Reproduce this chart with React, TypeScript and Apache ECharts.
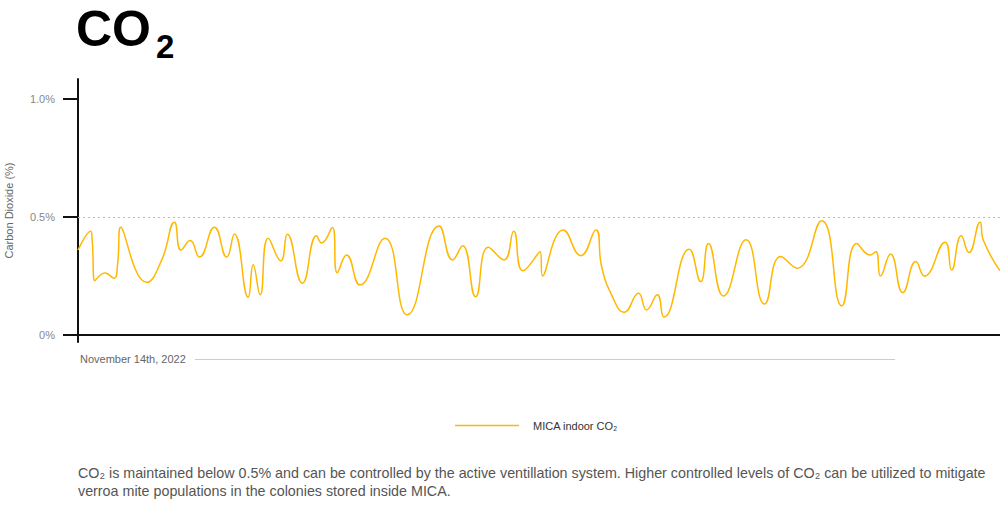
import React, { useEffect, useRef } from "react";
import * as echarts from "echarts";

// hours since start of November 14th, 2022
const hours = [
  0, 0.33, 0.37, 0.44, 0.7, 0.94, 1.03, 1.11, 1.79, 2.18, 2.51, 2.68, 2.92, 3.16, 3.55, 3.87,
  4.07, 4.43, 4.56, 4.74, 4.95, 5.28, 5.45, 5.84, 6.21, 6.34, 6.62, 6.75, 6.99, 7.34, 7.99,
  8.57, 9.4, 9.75, 10.01, 10.35, 10.68, 11.09, 11.34, 11.58, 12.03, 12.09, 12.63, 13.09, 13.48,
  13.63, 13.89, 14.22, 14.59, 14.8, 15.08, 15.25, 15.91, 16.21, 16.41, 16.8, 17.39, 17.87,
  18.29, 18.72, 19.36, 19.88, 20.27, 20.62, 20.77, 20.89, 21.15, 21.47, 21.81, 22.03, 22.57,
  22.74, 22.99, 23.19, 23.48, 23.57, 24,
];
// CO2 concentration (%)
const co2 = [
  0.36, 0.44, 0.4, 0.23, 0.263, 0.24, 0.3, 0.456, 0.223, 0.318, 0.478, 0.36, 0.4, 0.33, 0.456,
  0.33, 0.428, 0.16, 0.297, 0.17, 0.41, 0.314, 0.427, 0.219, 0.42, 0.39, 0.455, 0.264, 0.339,
  0.212, 0.41, 0.085, 0.462, 0.318, 0.378, 0.162, 0.372, 0.318, 0.44, 0.272, 0.353, 0.25, 0.445,
  0.336, 0.445, 0.29, 0.17, 0.096, 0.177, 0.106, 0.17, 0.075, 0.363, 0.226, 0.388, 0.165, 0.403,
  0.131, 0.332, 0.283, 0.484, 0.123, 0.388, 0.339, 0.353, 0.25, 0.343, 0.179, 0.311, 0.25, 0.393,
  0.275, 0.42, 0.349, 0.478, 0.4, 0.272,
];
const yTicks = [0, 0.5, 1.0];
const yTickLabels = ["0%", "0.5%", "1.0%"];
const seriesName = "MICA indoor CO₂";
const dateLabel = "November 14th, 2022";
const footer =
  "CO₂ is maintained below 0.5% and can be controlled by the active ventillation system. Higher controlled levels of CO₂ can be utilized to mitigate\nverroa mite populations in the colonies stored inside MICA.";

const FONT = "'Liberation Sans', Arial, Helvetica, sans-serif";
const YELLOW = "#FFB800";

export default function App() {
  const ref = useRef<HTMLDivElement>(null);
  useEffect(() => {
    if (!ref.current) return;
    const chart = echarts.init(ref.current, undefined, { renderer: "svg" });
    chart.setOption({
      animation: false,
      textStyle: { fontFamily: FONT },
      grid: {
        left: 78,
        right: 0,
        top: 79,
        bottom: 190,
        containLabel: false,
        outerBoundsMode: "none",
      },
      legend: {
        data: [seriesName],
        left: 450,
        top: 415,
        icon: "rect",
        itemWidth: 64,
        itemHeight: 1.5,
        textStyle: { color: "#333", fontSize: 11, fontFamily: FONT, padding: [0, 0, 0, 9] },
      },
      xAxis: {
        type: "value",
        min: 0,
        max: 24,
        axisLine: { show: true, onZero: true, lineStyle: { color: "#111", width: 2 } },
        axisTick: { show: false },
        axisLabel: { show: false },
        splitLine: { show: false },
      },
      yAxis: {
        type: "value",
        min: -0.03,
        max: 1.085,
        name: "Carbon Dioxide (%)",
        nameLocation: "middle",
        nameGap: 64,
        nameTextStyle: { color: "#666", fontSize: 11, fontFamily: FONT },
        axisLine: { show: true, lineStyle: { color: "#111", width: 2 } },
        axisTick: {
          show: true,
          length: 15,
          customValues: yTicks,
          lineStyle: { color: "#111", width: 2 },
        },
        axisLabel: {
          customValues: yTicks,
          margin: 23,
          color: "#888",
          fontSize: 11,
          fontFamily: FONT,
          formatter: (v: number) => {
            const i = yTicks.findIndex((t) => Math.abs(t - v) < 1e-6);
            return i >= 0 ? yTickLabels[i] : "";
          },
        },
        splitLine: { show: false },
      },
      series: [
        {
          name: seriesName,
          type: "line",
          smooth: 0.5,
          showSymbol: false,
          symbol: "none",
          data: hours.map((h, i) => [h, co2[i]]),
          lineStyle: { color: YELLOW, width: 1.5 },
          itemStyle: { color: YELLOW },
          markLine: {
            silent: true,
            symbol: "none",
            label: { show: false },
            lineStyle: { color: "#bbb", type: [2, 3], width: 1 },
            data: [{ yAxis: 0.5 }],
          },
        },
      ],
      graphic: [
        {
          type: "text",
          left: 76,
          top: 4,
          style: { text: "CO", font: `bold 50px ${FONT}`, fill: "#000" },
        },
        {
          type: "text",
          left: 156,
          top: 30,
          style: { text: "2", font: `bold 33px ${FONT}`, fill: "#000" },
        },
        {
          type: "text",
          left: 80,
          top: 353,
          style: { text: dateLabel, font: `11px ${FONT}`, fill: "#666" },
        },
        {
          type: "line",
          shape: { x1: 195, y1: 359.5, x2: 895, y2: 359.5 },
          style: { stroke: "#ccc", lineWidth: 1 },
        },
        {
          type: "text",
          left: 78,
          top: 464,
          style: { text: footer, font: `14.3px ${FONT}`, fill: "#555", lineHeight: 18 },
        },
      ],
    });
    return () => chart.dispose();
  }, []);
  return (
    <div
      ref={ref}
      style={{ position: "fixed", left: 0, top: 0, width: 1000, height: 532, background: "#fff" }}
    />
  );
}
